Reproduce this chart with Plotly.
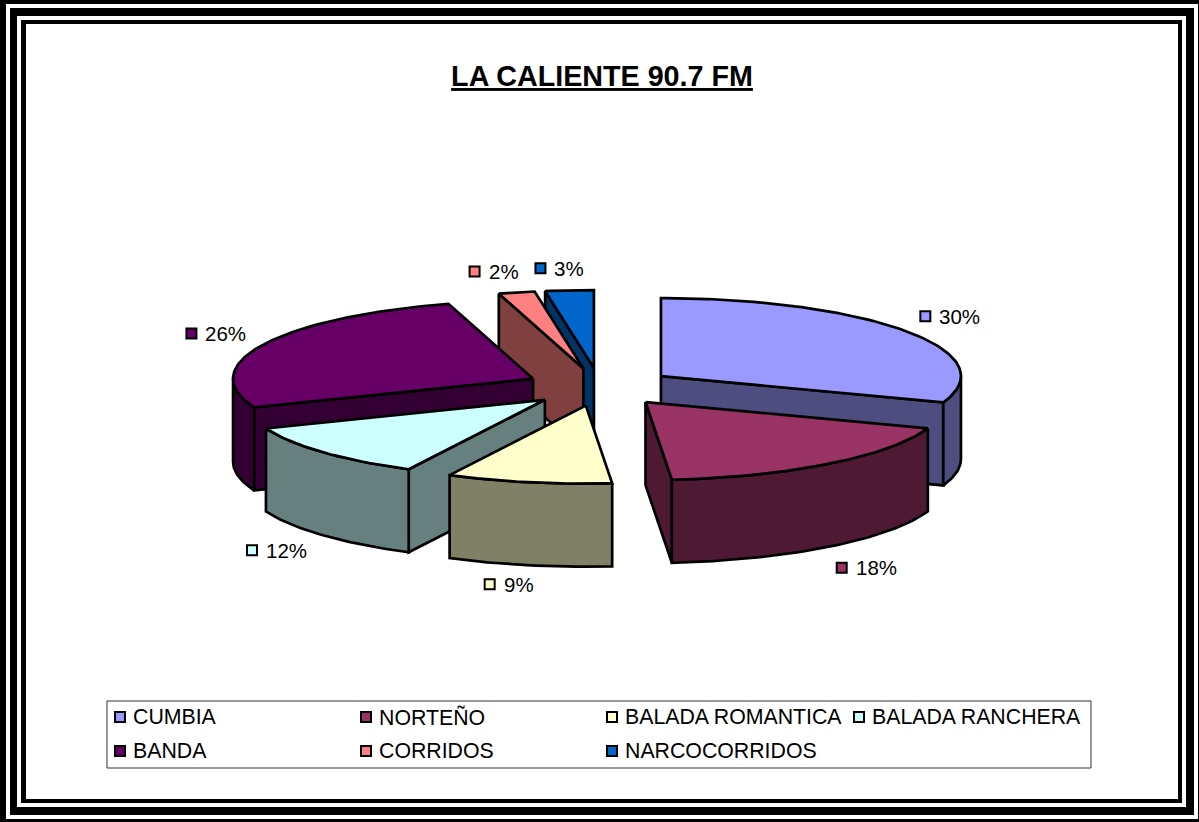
import math
import plotly.graph_objects as go

CATEGORIES = ["CUMBIA", "NORTEÑO", "BALADA ROMANTICA", "BALADA RANCHERA", "BANDA", "CORRIDOS", "NARCOCORRIDOS"]
VALUES = [30.49, 18.11, 8.9, 11.5, 26.45, 1.95, 2.6]
TOP_COLORS = ["#9999FF", "#993366", "#FFFFCC", "#CCFFFF", "#660066", "#FF8080", "#0066CC"]
SIDE_COLORS = ["#4D4D80", "#4D1933", "#808066", "#668080", "#330033", "#804040", "#003366"]
TITLE = "LA CALIENTE 90.7 FM"

W, H = 1199, 822
CX, CY = 600, 387
RX, RY = 300, 78
DEPTH = 83
EXPLODE_X, EXPLODE_Y = 74.5, 19
LABEL_NUDGE = [(19, -15), (13, 21), (-39, 19), (-71, 15), (-72, -11), (-42, -21), (-29, -22)]
DRAW_ORDER = [0, 1, 6, 5, 4, 3, 2]
LEGEND_COLS = [120, 366, 612, 859]
LEGEND_ROWS = [717, 751]
FONT = "Liberation Sans, Arial, sans-serif"

total = sum(VALUES)
angles = []
acc = 0.0
for v in VALUES:
    angles.append((acc / total * 360, (acc + v) / total * 360))
    acc += v


def apex_of(i):
    mid = math.radians(sum(angles[i]) / 2)
    return CX + EXPLODE_X * math.sin(mid), CY - EXPLODE_Y * math.cos(mid)


def rim(ax, ay, deg, drop=0):
    t = math.radians(deg)
    return ax + RX * math.sin(t), ay - RY * math.cos(t) + drop


def arc(ax, ay, a, b, drop=0):
    n = max(2, int(abs(b - a)) + 1)
    return [rim(ax, ay, a + (b - a) * k / n, drop) for k in range(n + 1)]


fig = go.Figure()


def poly(points, fill):
    xs = [p[0] for p in points] + [points[0][0]]
    ys = [p[1] for p in points] + [points[0][1]]
    fig.add_trace(go.Scatter(x=xs, y=ys, mode="lines", fill="toself", fillcolor=fill,
                             line=dict(color="black", width=2.7, shape="linear"),
                             hoverinfo="skip", showlegend=False))


for i in DRAW_ORDER:
    a, b = angles[i]
    ax, ay = apex_of(i)
    side = SIDE_COLORS[i]
    for edge in (a, b):
        s = math.sin(math.radians(edge))
        if (edge == a and s < -1e-6) or (edge == b and s > 1e-6):
            p = rim(ax, ay, edge)
            poly([(ax, ay), p, (p[0], p[1] + DEPTH), (ax, ay + DEPTH)], side)
    lo, hi = max(a, 90), min(b, 270)
    if hi > lo:
        poly(arc(ax, ay, lo, hi) + arc(ax, ay, hi, lo, DEPTH), side)
    poly([(ax, ay)] + arc(ax, ay, a, b), TOP_COLORS[i])

annotations = []
for i, name in enumerate(CATEGORIES):
    a, b = angles[i]
    mid = (a + b) / 2
    ax, ay = apex_of(i)
    drop = DEPTH if math.cos(math.radians(mid)) < 0 else 0
    px, py = rim(ax, ay, mid, drop)
    kx, ky = px + LABEL_NUDGE[i][0], py + LABEL_NUDGE[i][1]
    lx, ly = LEGEND_COLS[i % 4], LEGEND_ROWS[i // 4]
    fig.add_trace(go.Scatter(x=[kx, lx], y=[ky, ly], mode="markers", name=name,
                             marker=dict(symbol="square", size=10, color=TOP_COLORS[i],
                                         line=dict(color="black", width=2)),
                             hoverinfo="skip", showlegend=False))
    annotations.append(dict(x=kx + 12, y=ky, xref="x", yref="y", text=f"{round(VALUES[i])}%",
                            showarrow=False, xanchor="left", yanchor="middle",
                            font=dict(family=FONT, size=20.5, color="black")))
    annotations.append(dict(x=lx + 11, y=ly, xref="x", yref="y", text=name,
                            showarrow=False, xanchor="left", yanchor="middle",
                            font=dict(family=FONT, size=21.3, color="black")))

frame = [(0, 0, W, H, "black"), (6, 4, 1198, 819, "white"), (10, 8, 1194, 815, "black"),
         (17, 16, 1186, 807, "white"), (21, 20, 1182, 803, "black"), (26, 24, 1178, 799, "white")]
shapes = [dict(type="rect", xref="x", yref="y", x0=x0, y0=y0, x1=x1, y1=y1, fillcolor=c,
               line=dict(width=0), layer="below") for x0, y0, x1, y1, c in frame]
shapes.append(dict(type="rect", xref="x", yref="y", x0=107, y0=701, x1=1091, y1=768,
                   fillcolor="white", line=dict(color="#333333", width=1), layer="below"))

fig.update_layout(
    width=W, height=H, margin=dict(l=0, r=0, t=0, b=0),
    paper_bgcolor="white", plot_bgcolor="white", showlegend=False,
    xaxis=dict(range=[0, W], visible=False, fixedrange=True),
    yaxis=dict(range=[H, 0], visible=False, fixedrange=True),
    title=dict(text=f"<b><u>{TITLE}</u></b>", x=602 / W, xanchor="center", y=1 - 76 / H, yanchor="middle",
               font=dict(family=FONT, size=28.7, color="black")),
    shapes=shapes, annotations=annotations,
)

fig.write_html("out.html", config=dict(displayModeBar=False),
               post_script="document.body.style.margin='0';document.body.style.overflow='hidden';")
